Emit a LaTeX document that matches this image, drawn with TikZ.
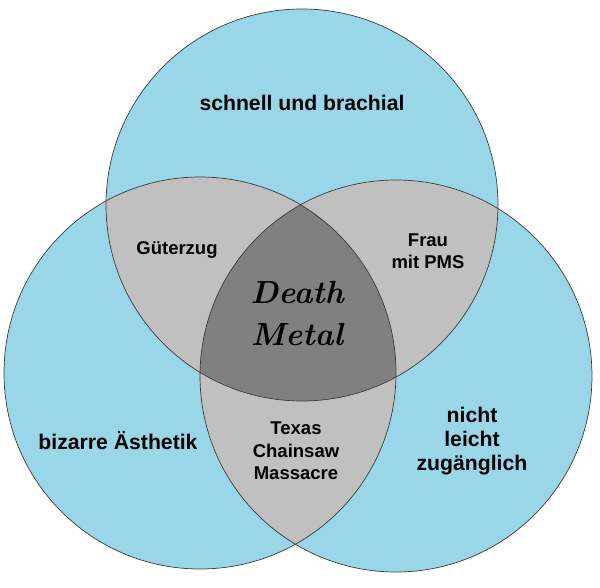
\documentclass[tikz,border=0pt]{standalone}
\usepackage{fontspec}
\newfontfamily\labfont{Liberation Sans}
\definecolor{vblue}{RGB}{153,214,231}
\definecolor{lgray}{RGB}{192,192,192}
\definecolor{dgray}{RGB}{128,128,128}
\definecolor{edge}{RGB}{60,60,60}
\begin{document}
\begin{tikzpicture}[x=1pt,y=-1pt,
  big/.style={font=\labfont\bfseries\fontsize{21.2}{24}\selectfont, anchor=base, inner sep=0pt},
  small/.style={font=\labfont\bfseries\fontsize{18.5}{22}\selectfont, anchor=base, inner sep=0pt},
  dm/.style={font=\bfseries\itshape\fontsize{32}{40}\selectfont, anchor=base, inner sep=0pt},
  outline/.style={draw=edge, line width=0.7pt}]
\useasboundingbox (0,0) rectangle (600,588);
\coordinate (T) at (302,205);
\coordinate (L) at (200,373);
\coordinate (R) at (396,376);
\def\rr{196pt}
\fill[vblue] (T) circle[radius=\rr] (L) circle[radius=\rr] (R) circle[radius=\rr];
\begin{scope}
  \clip (T) circle[radius=\rr];
  \fill[lgray] (L) circle[radius=\rr] (R) circle[radius=\rr];
\end{scope}
\begin{scope}
  \clip (L) circle[radius=\rr];
  \fill[lgray] (R) circle[radius=\rr];
\end{scope}
\begin{scope}
  \clip (T) circle[radius=\rr];
  \clip (L) circle[radius=\rr];
  \fill[dgray] (R) circle[radius=\rr];
\end{scope}
\draw[outline] (T) circle[radius=\rr];
\draw[outline] (L) circle[radius=\rr];
\draw[outline] (R) circle[radius=\rr];
% labels
\node[big] (top) at (302,111) {schnell und brachial};
\node[big] (left) at (118,449) {bizarre Ästhetik};
\node[big] (r1) at (472,422) {nicht};
\node[big] (r2) at (472,446) {leicht};
\node[big] (r3) at (472,470) {zugänglich};
\node[small] (tl) at (177,255) {Güterzug};
\node[small] (tr1) at (428,247) {Frau};
\node[small] (tr2) at (428,269) {mit PMS};
\node[small] (b1) at (296,434) {Texas};
\node[small] (b2) at (296,457) {Chainsaw};
\node[small] (b3) at (296,479) {Massacre};
\node[dm] (d1) at (297,303) {Death};
\node[dm] (d2) at (297,345) {Metal};
\end{tikzpicture}
\end{document}
